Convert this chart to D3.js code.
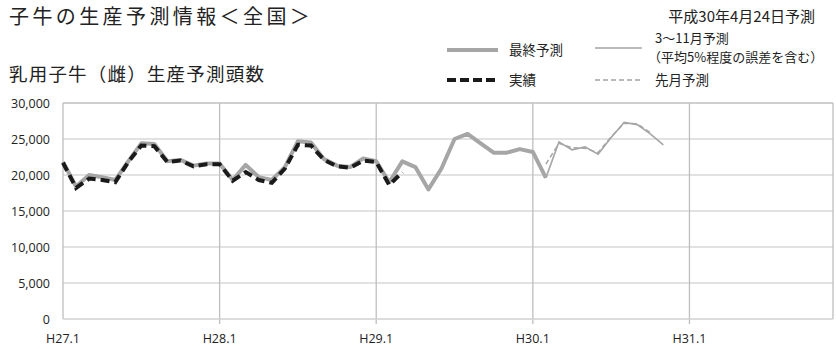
<!DOCTYPE html>
<html><head><meta charset="utf-8">
<script src="https://cdn.jsdelivr.net/npm/d3@7"></script>
<style>body{margin:0;background:#fff;}svg{display:block;}</style>
</head><body>
<script>
// ---- data ----
const years = ["H27","H28","H29","H30","H31"];
const monthNums = [1,2,3,4,5,6,7,8,9,10,11,12];
const categories = [];
years.forEach(y => monthNums.forEach(m => categories.push(y + "." + m)));
const xTickLabels = ["H27.1","H28.1","H29.1","H30.1","H31.1"];
const yTicks = [0,5000,10000,15000,20000,25000,30000];

// 最終予測 (from H27.1)
const finalPredStart = "H27.1";
const finalPred = [21800,18400,20000,19700,19300,21900,24400,24300,21900,22100,21300,21600,
                   21600,19300,21400,19700,19300,21100,24700,24500,22200,21300,21100,22300,
                   21900,19000,21900,21100,18000,20900,25000,25700,24400,23100,23100,23600,
                   23200,19600];
// 実績 (from H27.1)
const actualStart = "H27.1";
const actual = [21700,18200,19500,19300,19000,21800,24100,24000,21800,22000,21200,21500,
                21500,19200,20400,19300,18900,20900,24200,24100,22100,21200,21000,22000,
                21800,18600,20400];
// 3～11月予測 (from H30.2)
const forecastStart = "H30.2";
const forecast = [19600,24600,23500,23900,22900,25200,27300,27000,25700,24200];
// 先月予測 (from H30.2)
const lastMonthStart = "H30.2";
const lastMonth = [21500,24400,23800,23700,23100,25300,27200,27100,25900];

// ---- layout ----
const W = 836, H = 349;
const m = {left:63, right:833, top:103, bottom:319};
const svg = d3.select("body").append("svg").attr("width",W).attr("height",H);

const x = d3.scaleLinear().domain([0, categories.length-1]).range([m.left, m.right]);
const y = d3.scaleLinear().domain([0,30000]).range([m.bottom, m.top]);

const sansJP = "'Noto Sans CJK JP','Noto Sans',sans-serif";

// titles
svg.append("text").attr("x",9).attr("y",24).attr("font-family",sansJP)
  .attr("font-size",20).attr("letter-spacing",3.4).attr("fill","#222").text("子牛の生産予測情報＜全国＞");
svg.append("text").attr("x",9).attr("y",81).attr("font-family",sansJP)
  .attr("font-size",18.5).attr("letter-spacing",1.2).attr("fill","#222").text("乳用子牛（雌）生産予測頭数");
svg.append("text").attr("x",815).attr("y",22).attr("text-anchor","end").attr("font-family",sansJP)
  .attr("font-size",15).attr("fill","#222").text("平成30年4月24日予測");

// gridlines horizontal
svg.append("g").selectAll("line").data(yTicks.filter(d=>d>0)).join("line")
  .attr("x1",m.left).attr("x2",m.right).attr("y1",d=>y(d)).attr("y2",d=>y(d))
  .attr("stroke",d=>d===30000?"#bfbfbf":"#d9d9d9").attr("stroke-width",1.3);
// vertical gridlines
const tickIdx = xTickLabels.map(l => categories.indexOf(l));
svg.append("g").selectAll("line").data(tickIdx).join("line")
  .attr("x1",d=>x(d)).attr("x2",d=>x(d)).attr("y1",m.top).attr("y2",d=>d===0?m.bottom:m.bottom+5)
  .attr("stroke","#bfbfbf").attr("stroke-width",1.3);
// right border
svg.append("line").attr("x1",m.right).attr("x2",m.right).attr("y1",m.top).attr("y2",m.bottom)
  .attr("stroke","#bfbfbf").attr("stroke-width",1.3);
// x axis line
svg.append("line").attr("x1",m.left).attr("x2",m.right).attr("y1",m.bottom).attr("y2",m.bottom)
  .attr("stroke","#d0d0d0").attr("stroke-width",1.6);

// y tick labels
const fmt = d3.format(",");
svg.append("g").selectAll("text").data(yTicks).join("text")
  .attr("x",50).attr("y",d=>y(d)+4.5).attr("text-anchor","end")
  .attr("font-family","'Open Sans','Noto Sans',sans-serif").attr("font-size",12.5).attr("fill","#222")
  .text(d=>fmt(d));
// x tick labels
svg.append("g").selectAll("text").data(xTickLabels).join("text")
  .attr("x",l=>x(categories.indexOf(l))).attr("y",343).attr("text-anchor","middle")
  .attr("font-family","'Open Sans','Noto Sans',sans-serif").attr("font-size",12.5).attr("fill","#222")
  .text(d=>d);

// series
function pts(start, vals){ const s = categories.indexOf(start); return vals.map((v,i)=>[s+i, v]); }
const line = d3.line().x(d=>x(d[0])).y(d=>y(d[1]));

svg.append("path").datum(pts(finalPredStart, finalPred)).attr("d",line)
  .attr("fill","none").attr("stroke","#a6a6a6").attr("stroke-width",4).attr("stroke-linejoin","round");
svg.append("path").datum(pts(lastMonthStart, lastMonth)).attr("d",line)
  .attr("fill","none").attr("stroke","#a6a6a6").attr("stroke-width",1.5).attr("stroke-dasharray","5,3");
svg.append("path").datum(pts(forecastStart, forecast)).attr("d",line)
  .attr("fill","none").attr("stroke","#a6a6a6").attr("stroke-width",1.6);
svg.append("path").datum(pts(actualStart, actual)).attr("d",line)
  .attr("fill","none").attr("stroke","#1a1a1a").attr("stroke-width",4).attr("stroke-dasharray","9,5");

// legend
const lg = svg.append("g").attr("font-family",sansJP).attr("font-size",13.5).attr("fill","#222");
lg.append("line").attr("x1",447).attr("x2",498).attr("y1",50).attr("y2",50).attr("stroke","#a6a6a6").attr("stroke-width",4);
lg.append("text").attr("x",509).attr("y",55).text("最終予測");
lg.append("line").attr("x1",447).attr("x2",498).attr("y1",80).attr("y2",80).attr("stroke","#1a1a1a").attr("stroke-width",4).attr("stroke-dasharray","9,4");
lg.append("text").attr("x",509).attr("y",85).text("実績");
lg.append("line").attr("x1",595).attr("x2",642).attr("y1",48).attr("y2",48).attr("stroke","#a6a6a6").attr("stroke-width",1.5);
lg.append("text").attr("x",655).attr("y",43).attr("font-size",13).text("3～11月予測");
lg.append("text").attr("x",648).attr("y",62).attr("font-size",13).text("（平均5%程度の誤差を含む）");
lg.append("line").attr("x1",595).attr("x2",642).attr("y1",80).attr("y2",80).attr("stroke","#a6a6a6").attr("stroke-width",1.5).attr("stroke-dasharray","5,3");
lg.append("text").attr("x",655).attr("y",85).text("先月予測");
</script>
</body></html>
